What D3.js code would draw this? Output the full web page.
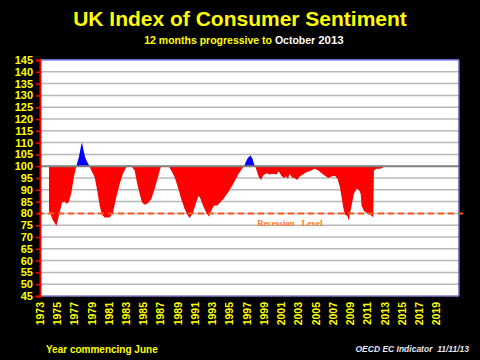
<!DOCTYPE html>
<html>
<head>
<meta charset="utf-8">
<script src="https://cdn.jsdelivr.net/npm/d3@7"></script>
<style>
  html, body { margin: 0; padding: 0; background: #000; }
  svg { display: block; }
  text { font-family: "Liberation Sans", Arial, sans-serif; }
</style>
</head>
<body>
<div id="chart"></div>
<script>
// --------------------------------------------------
// 1. Data (year fraction -> index)
// --------------------------------------------------
const years = [
  1974.04, 1974.28, 1974.51, 1974.91, 1975.26, 1975.55, 1975.84, 1976.13, 1976.36, 1976.63,
  1976.94, 1977.21, 1977.52, 1977.75, 1977.87, 1978.04, 1978.22, 1978.45, 1978.74, 1979.03,
  1979.34, 1979.64, 1979.92, 1980.19, 1980.50, 1981.08, 1981.46, 1981.85, 1982.24, 1982.62,
  1983.01, 1983.40, 1983.59, 1983.98, 1984.28, 1984.56, 1984.83, 1985.14, 1985.52, 1985.91,
  1986.30, 1986.68, 1987.00, 1987.49, 1987.92, 1988.22, 1988.62, 1989.00, 1989.38, 1989.78,
  1990.16, 1990.36, 1990.74, 1991.12, 1991.40, 1991.63, 1991.90, 1992.28, 1992.60, 1992.86,
  1993.18, 1993.56, 1993.87, 1994.26, 1994.83, 1995.41, 1995.99, 1996.54, 1996.74, 1996.85,
  1997.12, 1997.43, 1997.66, 1997.81, 1997.96, 1998.20, 1998.39, 1998.66, 1998.86, 1999.24,
  1999.64, 2000.02, 2000.40, 2000.71, 2000.98, 2001.29, 2001.56, 2001.76, 2001.95, 2002.22,
  2002.53, 2002.84, 2003.11, 2003.50, 2003.88, 2004.27, 2004.89, 2005.27, 2005.85, 2006.43,
  2006.82, 2007.21, 2007.52, 2007.79, 2007.98, 2008.17, 2008.37, 2008.63, 2008.83, 2008.94,
  2009.14, 2009.41, 2009.72, 2009.99, 2010.19, 2010.30, 2010.60, 2011.07, 2011.46, 2011.65,
  2011.73, 2012.04, 2012.43, 2012.77
];
const sentiment = [
  81, 79, 77, 74.8, 80, 84.5, 85, 84, 85, 88.5,
  95.5, 100, 104, 108.5, 110, 107, 104, 102, 100, 97.5,
  95.3, 89.7, 83.3, 79.4, 78.3, 78.3, 80.4, 86.8, 92.5, 96.9,
  99.6, 100.5, 100, 98.2, 92.5, 88.3, 84.7, 83.7, 84.3, 86.1,
  90.4, 95.3, 99.6, 100, 100, 98.2, 95.3, 91, 86.1, 81.9,
  79, 78, 80.4, 84.7, 87.5, 86.1, 83.3, 80.4, 78.6, 81.1,
  83.3, 83.3, 84.5, 86.1, 89, 92.5, 96.5, 99.5, 100.5, 101.7,
  103.6, 104.5, 103.1, 101, 100, 97.4, 95.3, 94.2, 96, 97,
  96.5, 96.8, 96.5, 97.9, 96, 95, 95.6, 94.6, 96.8, 95.3,
  95, 94.2, 95.6, 96.5, 97.4, 97.9, 98.9, 98.2, 96.5, 95,
  95.6, 96, 94.6, 91.1, 86.8, 82.6, 79.4, 79, 76.9, 79.7,
  83.3, 88.3, 90.4, 90, 88.3, 83.3, 80.9, 80, 79, 78.3,
  98.2, 98.9, 98.9, 99.3
];
const yTicks = d3.range(45, 146, 5);
const xTickYears = d3.range(1973, 2020, 2);
const baseline = 100;
const recessionLevel = 80;

const points = d3.zip(years, sentiment).map(([year, value]) => ({ year, value }));

// --------------------------------------------------
// 2. Dimensions
// --------------------------------------------------
const width = 480;
const height = 360;
const plot = { left: 40, right: 459, top: 60, bottom: 296 };

const svg = d3.select("#chart")
  .append("svg")
  .attr("width", width)
  .attr("height", height);

svg.append("rect")
  .attr("width", width)
  .attr("height", height)
  .attr("fill", "#000");

// --------------------------------------------------
// 3. Scales
// --------------------------------------------------
const xScale = d3.scaleLinear()
  .domain([1973, 2021.6])
  .range([plot.left, plot.right]);

const yScale = d3.scaleLinear()
  .domain([45, 145])
  .range([plot.bottom, plot.top]);

// --------------------------------------------------
// 4. Plot background and grid
// --------------------------------------------------
svg.append("rect")
  .attr("x", plot.left)
  .attr("y", plot.top)
  .attr("width", plot.right - plot.left)
  .attr("height", plot.bottom - plot.top)
  .attr("fill", "#fff");

svg.append("g")
  .selectAll("line")
  .data(yTicks.filter(d => d !== 45 && d !== 145 && d !== baseline))
  .enter()
  .append("line")
  .attr("x1", plot.left)
  .attr("x2", plot.right)
  .attr("y1", d => yScale(d))
  .attr("y2", d => yScale(d))
  .attr("stroke", "#b8b8b8")
  .attr("stroke-width", 1.5);

// --------------------------------------------------
// 5. Areas around the 100 baseline (red below, blue above)
// --------------------------------------------------
const defs = svg.append("defs");
defs.append("clipPath").attr("id", "below")
  .append("rect")
  .attr("x", plot.left).attr("y", yScale(baseline))
  .attr("width", plot.right - plot.left)
  .attr("height", plot.bottom - yScale(baseline));
defs.append("clipPath").attr("id", "above")
  .append("rect")
  .attr("x", plot.left).attr("y", plot.top)
  .attr("width", plot.right - plot.left)
  .attr("height", yScale(baseline) - plot.top);

const area = d3.area()
  .x(d => xScale(d.year))
  .y0(yScale(baseline))
  .y1(d => yScale(d.value));

svg.append("path")
  .datum(points)
  .attr("clip-path", "url(#below)")
  .attr("fill", "#ff0000")
  .attr("d", area);

svg.append("path")
  .datum(points)
  .attr("clip-path", "url(#above)")
  .attr("fill", "#0000ff")
  .attr("d", area);

// baseline at 100
svg.append("line")
  .attr("x1", plot.left)
  .attr("x2", plot.right)
  .attr("y1", yScale(baseline))
  .attr("y2", yScale(baseline))
  .attr("stroke", "#7f7f7f")
  .attr("stroke-width", 2);

// --------------------------------------------------
// 6. Recession level
// --------------------------------------------------
svg.append("line")
  .attr("x1", plot.left - 2)
  .attr("x2", plot.right + 4)
  .attr("y1", yScale(recessionLevel))
  .attr("y2", yScale(recessionLevel))
  .attr("stroke", "#ff5a1e")
  .attr("stroke-width", 2)
  .attr("stroke-dasharray", "6,4");

svg.append("text")
  .attr("x", xScale(1998.2))
  .attr("y", yScale(recessionLevel) + 13)
  .attr("fill", "#ff7a30")
  .style("font-family", "'Liberation Serif', 'Times New Roman', serif")
  .style("font-size", "9px")
  .style("font-weight", "bold")
  .attr("xml:space", "preserve")
  .text("Recession   Level");

// --------------------------------------------------
// 7. Frame and axes
// --------------------------------------------------
svg.append("line")
  .attr("x1", plot.left).attr("x2", plot.right)
  .attr("y1", plot.top).attr("y2", plot.top)
  .attr("stroke", "#8c8cff").attr("stroke-width", 1.5);
svg.append("line")
  .attr("x1", plot.left).attr("x2", plot.right)
  .attr("y1", plot.bottom).attr("y2", plot.bottom)
  .attr("stroke", "#8080c8").attr("stroke-width", 1.5);
svg.append("line")
  .attr("x1", plot.right).attr("x2", plot.right)
  .attr("y1", plot.top).attr("y2", plot.bottom)
  .attr("stroke", "#6060c0").attr("stroke-width", 1.5);

const yAxis = d3.axisLeft(yScale)
  .tickValues(yTicks)
  .tickSize(4)
  .tickPadding(3)
  .tickFormat(d3.format("d"));

const yAxisG = svg.append("g")
  .attr("transform", `translate(${plot.left}, 0)`)
  .call(yAxis);
yAxisG.select(".domain").attr("stroke", "#ff0000").attr("stroke-width", 2);
yAxisG.selectAll(".tick line").attr("stroke", "#ff0000").attr("stroke-width", 1.5);
yAxisG.selectAll(".tick text")
  .attr("fill", "#ffff00")
  .style("font-family", "'Liberation Sans', Arial, sans-serif")
  .style("font-size", "11px")
  .style("font-weight", "bold");

svg.append("g")
  .selectAll("text")
  .data(xTickYears)
  .enter()
  .append("text")
  .attr("transform", d => `translate(${xScale(d)}, 302) rotate(-90)`)
  .attr("text-anchor", "end")
  .attr("dy", "0.36em")
  .attr("fill", "#ffff00")
  .style("font-size", "10.5px")
  .style("font-weight", "bold")
  .text(d => d);

// --------------------------------------------------
// 8. Titles and footers
// --------------------------------------------------
svg.append("text")
  .attr("x", width / 2)
  .attr("y", 26)
  .attr("text-anchor", "middle")
  .attr("fill", "#ffff00")
  .style("font-size", "21px")
  .style("font-weight", "bold")
  .text("UK Index of Consumer Sentiment");

const sub = svg.append("text")
  .attr("x", 244)
  .attr("y", 44)
  .attr("text-anchor", "middle")
  .style("font-size", "10.5px")
  .style("font-weight", "bold");
sub.append("tspan").attr("fill", "#ffff00").text("12 months progressive to ");
sub.append("tspan").attr("fill", "#ffffff").text("October ");
sub.append("tspan").attr("fill", "#ffffff").style("font-size", "11.5px").text("2013");

svg.append("text")
  .attr("x", 46)
  .attr("y", 353)
  .attr("fill", "#ffff00")
  .style("font-size", "10px")
  .style("font-weight", "bold")
  .text("Year commencing June");

svg.append("text")
  .attr("x", 469)
  .attr("y", 352)
  .attr("text-anchor", "end")
  .attr("fill", "#e6e6f5")
  .attr("xml:space", "preserve")
  .style("font-size", "8.5px")
  .style("font-weight", "bold")
  .style("font-style", "italic")
  .text("OECD EC Indicator  11/11/13");
</script>
</body>
</html>
